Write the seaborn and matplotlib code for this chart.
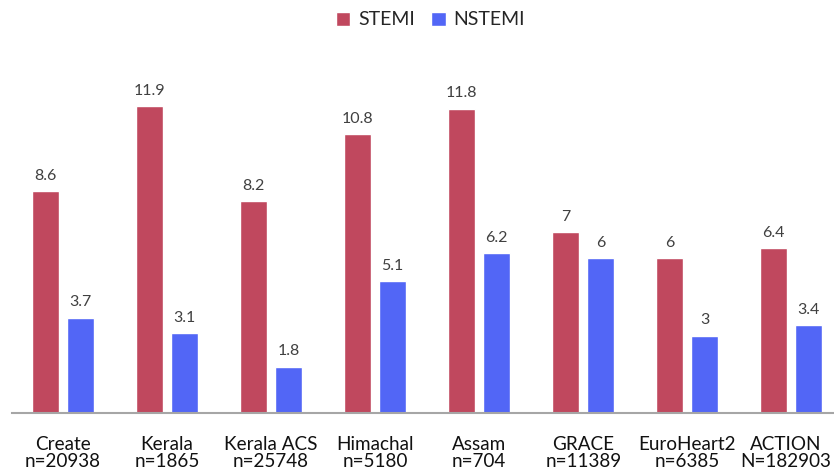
import matplotlib
matplotlib.use("Agg")
import matplotlib.pyplot as plt
import matplotlib.transforms as mtransforms
import seaborn as sns
import pandas as pd

# Registry names and sample sizes
registries = ["Create", "Kerala", "Kerala ACS", "Himachal", "Assam",
              "GRACE", "EuroHeart2", "ACTION"]
sample_sizes = ["n=20938", "n=1865", "n=25748", "n=5180", "n=704",
                "n=11389", "n=6385", "N=182903"]

# In-hospital mortality (%) by MI type
stemi = [8.6, 11.9, 8.2, 10.8, 11.8, 7, 6, 6.4]
nstemi = [3.7, 3.1, 1.8, 5.1, 6.2, 6, 3, 3.4]

series_names = ["STEMI", "NSTEMI"]
palette = {"STEMI": "#C0485E", "NSTEMI": "#5266F6"}

df = pd.DataFrame({
    "registry": registries * 2,
    "type": [series_names[0]] * len(stemi) + [series_names[1]] * len(nstemi),
    "value": stemi + nstemi,
})

sns.set_theme(style="white")
plt.rcParams["font.family"] = ["Lato", "DejaVu Sans"]

fig = plt.figure(figsize=(8.34, 4.75), dpi=100)
# axes run up to the right edge of the canvas
ax = fig.add_axes([0.0144, 0.1305, 0.9856, 0.7604])

sns.barplot(data=df, x="registry", y="value", hue="type", order=registries,
            hue_order=series_names, palette=palette, width=0.673, gap=0.226,
            saturation=1, ax=ax, legend=True)

for container in ax.containers:
    ax.bar_label(container, fmt=lambda v: f"{v:g}", padding=6,
                 fontsize=11.5, color="#404040")

ax.set_ylim(0, 14)
ax.set_xlim(-0.49, 7.41)
ax.set_xlabel("")
ax.set_ylabel("")
ax.set_yticks([])
ax.set_xticks(range(len(registries)))
ax.set_xticklabels([f"{r}\n{n}" for r, n in zip(registries, sample_sizes)],
                   fontsize=13.6, color="#111111", linespacing=1.02)
ax.tick_params(axis="x", length=0, pad=16.5)

# keep the last label inside the canvas
last = ax.get_xticklabels()[-1]
last.set_transform(last.get_transform() +
                   mtransforms.ScaledTranslation(-6 / 100, 0, fig.dpi_scale_trans))

for side in ["top", "right", "left"]:
    ax.spines[side].set_visible(False)
ax.spines["bottom"].set_color("#A6A6A6")
ax.spines["bottom"].set_linewidth(1.5)

handles, labels = ax.get_legend_handles_labels()
ax.legend_.remove()
fig.legend(handles, labels, loc="center", bbox_to_anchor=(0.516, 0.958),
           ncol=2, frameon=False, fontsize=14, handlelength=0.75,
           handleheight=0.75, handletextpad=0.4, columnspacing=0.85)

fig.savefig("out.png", dpi=100)
